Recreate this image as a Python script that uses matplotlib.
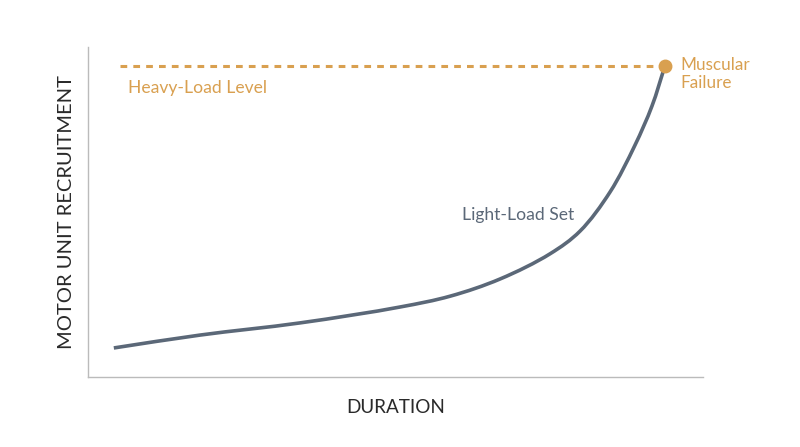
import matplotlib
matplotlib.use("Agg")
import matplotlib.pyplot as plt
import numpy as np
from matplotlib.path import Path
from matplotlib.patches import PathPatch

# Light-load set curve (duration vs motor unit recruitment)
duration = [4.2, 18.2, 34.5, 50.7, 58.9, 67.0, 75.1, 80.0, 84.9, 88.9, 91.7, 93.8]
recruitment = [8.8, 12.7, 16.4, 21.2, 24.5, 29.7, 37.3, 44.2, 56.1, 70.1, 82.1, 94.2]

heavy_x = [5.2, 93.8]
heavy_level = 94.2
failure_point = (93.8, 94.2)

plt.rcParams['font.family'] = ['Lato', 'DejaVu Sans']

fig = plt.figure(figsize=(8, 4.47), dpi=100)
ax = fig.add_axes([88/800, 1 - 377/447, 615/800, 330/447])
ax.set_xlim(0, 100)
ax.set_ylim(0, 100)

orange = '#d9a050'
slate = '#5b6878'

ax.plot(heavy_x, [heavy_level, heavy_level], color=orange, lw=2.2, ls=(0, (2.2, 2.0)))

# smooth curve through the read points: centripetal Catmull-Rom drawn as cubic Beziers
disp = ax.transData.transform(np.column_stack([duration, recruitment]))
n = len(disp)
ext = np.vstack([2 * disp[0] - disp[1], disp, 2 * disp[-1] - disp[-2]])
verts = [disp[0]]
codes = [Path.MOVETO]
for i in range(1, n):
    p0, p1, p2, p3 = ext[i - 1], ext[i], ext[i + 1], ext[i + 2]
    d1 = np.linalg.norm(p1 - p0) ** 0.5
    d2 = np.linalg.norm(p2 - p1) ** 0.5
    d3 = np.linalg.norm(p3 - p2) ** 0.5
    c1 = (d1**2 * p2 - d2**2 * p0 + (2 * d1**2 + 3 * d1 * d2 + d2**2) * p1) / (3 * d1 * (d1 + d2))
    c2 = (d3**2 * p1 - d2**2 * p3 + (2 * d3**2 + 3 * d3 * d2 + d2**2) * p2) / (3 * d3 * (d3 + d2))
    verts += [c1, c2, p2]
    codes += [Path.CURVE4] * 3
verts = ax.transData.inverted().transform(np.array(verts))
ax.add_patch(PathPatch(Path(verts, codes), facecolor='none', edgecolor=slate, lw=2.6,
                       capstyle='butt', joinstyle='round'))
ax.plot([failure_point[0]], [failure_point[1]], 'o', color=orange, ms=9, zorder=5)

ax.text(6.5, 87.5, 'Heavy-Load Level', color=orange, fontsize=12.6, va='center', ha='left')
ax.text(96.3, 91.8, 'Muscular\nFailure', color=orange, fontsize=12.3, va='center', ha='left', linespacing=1.2)
ax.text(70.0, 49.0, 'Light-Load Set', color=slate, fontsize=12.6, va='center', ha='center')

for s in ['top', 'right']:
    ax.spines[s].set_visible(False)
for s in ['left', 'bottom']:
    ax.spines[s].set_color('#bbbbbb')
    ax.spines[s].set_linewidth(1.0)
ax.set_xticks([])
ax.set_yticks([])

ax.set_xlabel('DURATION', fontsize=13.6, color='#2a2a2a', labelpad=16)
ax.set_ylabel('MOTOR UNIT RECRUITMENT', fontsize=14.5, color='#2a2a2a', labelpad=9)

fig.savefig('out.png', dpi=100, facecolor='white')
